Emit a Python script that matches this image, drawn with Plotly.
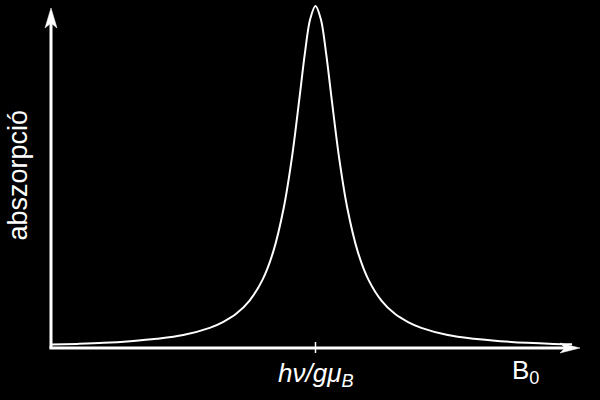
import plotly.graph_objects as go

# Curve (field in arbitrary units, absorption normalised)
field = [0.0, 0.5, 1.0, 1.5, 2.0, 2.5, 3.0, 3.25, 3.5, 3.75, 4.0, 4.2, 4.4,
         4.55, 4.7, 4.8, 4.9, 5.0, 5.1, 5.2, 5.3, 5.45, 5.6, 5.8, 6.0, 6.25,
         6.5, 6.75, 7.0, 7.5, 8.0, 8.5, 9.0, 9.5, 9.85]
absorption = [0.010, 0.012, 0.015, 0.020, 0.027, 0.038, 0.059, 0.076, 0.100,
              0.138, 0.200, 0.281, 0.410, 0.552, 0.735, 0.862, 0.962, 1.0,
              0.962, 0.862, 0.735, 0.552, 0.410, 0.281, 0.200, 0.138, 0.100,
              0.076, 0.059, 0.038, 0.027, 0.020, 0.015, 0.012, 0.011]

tick_vals = [5.0]
tick_text = ["<i>hν/gμ<sub>B</sub></i>"]
y_label = "abszorpció"
x_label = "B<sub>0</sub>"
x_label_pos = 9.0

X_MAX = 10.0
Y_MAX = 1.0117
FONT = "Arial, Liberation Sans, sans-serif"

fig = go.Figure()
fig.add_trace(go.Scatter(x=field, y=absorption, mode="lines",
                         line=dict(color="white", width=2, shape="spline", smoothing=1.0),
                         hoverinfo="skip", showlegend=False))

shapes = []
# axis lines (paper refs so that they are not clipped)
shapes.append(dict(type="line", xref="paper", yref="paper", x0=-0.003, y0=0, x1=0.975, y1=0,
                   line=dict(color="white", width=3)))
shapes.append(dict(type="line", xref="paper", yref="paper", x0=0, y0=0, x1=0, y1=0.95,
                   line=dict(color="white", width=3)))
# arrow heads (pixel-sized, anchored at axis ends)
shapes.append(dict(type="path", xref="paper", yref="paper", xsizemode="pixel", ysizemode="pixel",
                   xanchor=1.0, yanchor=0,
                   path="M 0 0 L -20 5 L -15 0 L -20 -5 Z",
                   fillcolor="white", line=dict(color="white", width=0.5)))
shapes.append(dict(type="path", xref="paper", yref="paper", xsizemode="pixel", ysizemode="pixel",
                   xanchor=0, yanchor=0.9827,
                   path="M 0 0 L -6 -20 L 0 -15 L 6 -20 Z",
                   fillcolor="white", line=dict(color="white", width=0.5)))
# tick mark
for tv in tick_vals:
    shapes.append(dict(type="line", xref="paper", yref="paper", ysizemode="pixel", yanchor=0,
                       x0=tv / X_MAX, x1=tv / X_MAX, y0=-5, y1=6,
                       line=dict(color="white", width=1.5)))

annotations = []
for tv, tt in zip(tick_vals, tick_text):
    annotations.append(dict(x=tv, y=0, xref="x", yref="y", text=tt, showarrow=False,
                            yanchor="top", xanchor="center", yshift=-8,
                            font=dict(family=FONT, size=26, color="white")))
annotations.append(dict(x=x_label_pos, y=0, xref="x", yref="y", text=x_label, showarrow=False,
                        yanchor="top", xanchor="center", yshift=-5, xshift=-2,
                        font=dict(family=FONT, size=26, color="white")))
annotations.append(dict(x=-0.0615, y=0.5, xref="paper", yref="paper", text=y_label, showarrow=False,
                        textangle=-90, xanchor="center", yanchor="middle",
                        font=dict(family=FONT, size=27, color="white")))

fig.update_layout(
    width=600, height=400,
    margin=dict(l=51, r=20, t=2, b=52),
    paper_bgcolor="black", plot_bgcolor="black",
    xaxis=dict(range=[0, X_MAX], visible=False, fixedrange=True),
    yaxis=dict(range=[0, Y_MAX], visible=False, fixedrange=True),
    shapes=shapes, annotations=annotations,
    showlegend=False,
)
fig.write_html("out.html", config={"displayModeBar": False},
               post_script="document.body.style.margin='0';document.body.style.background='black';")
